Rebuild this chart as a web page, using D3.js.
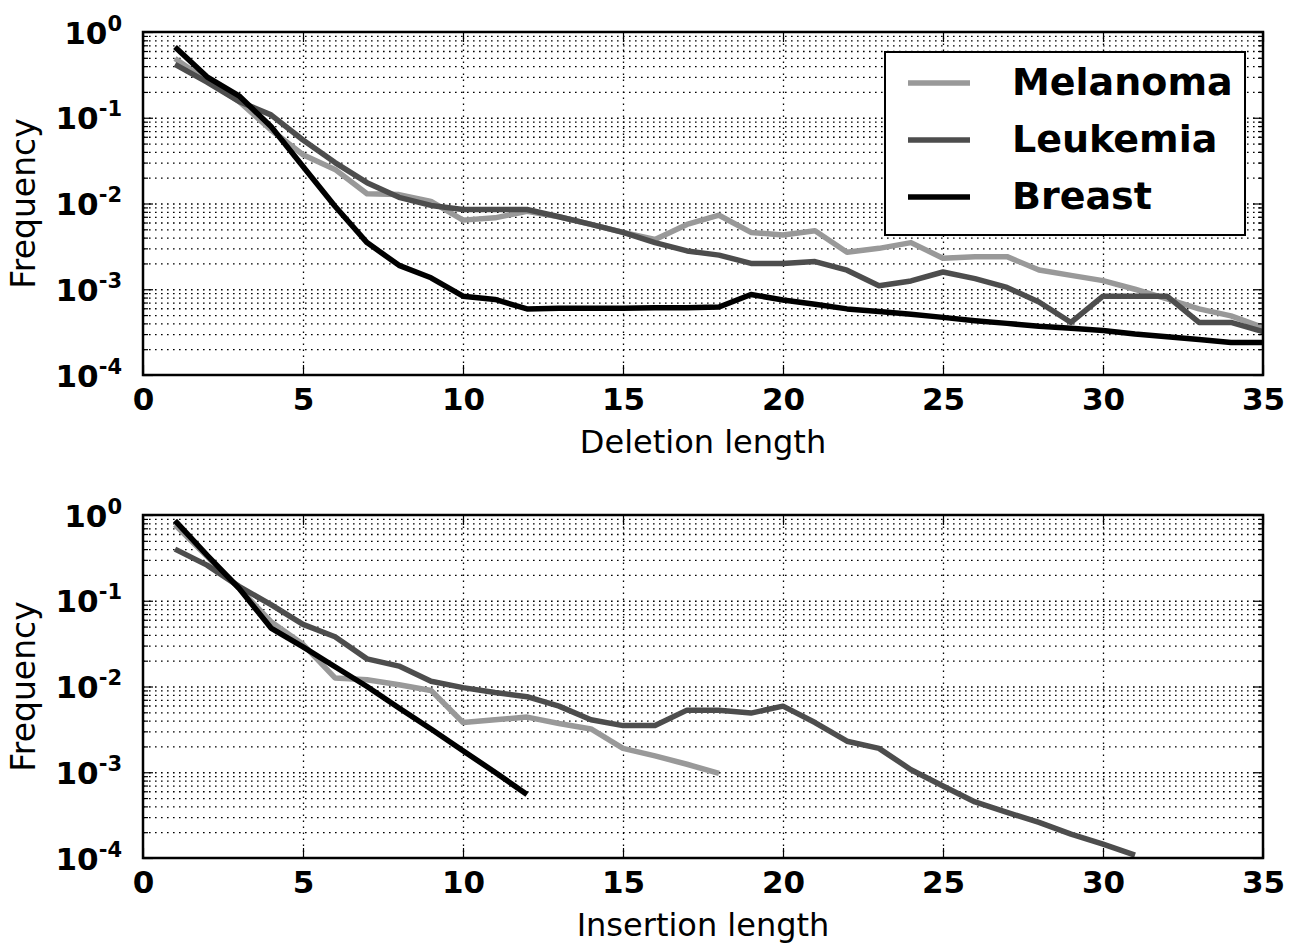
<!DOCTYPE html>
<html>
<head>
<meta charset="utf-8">
<script src="https://cdn.jsdelivr.net/npm/d3@7"></script>
<style>
  body { margin: 0; background: #fff; }
  svg { display: block; font-family: "DejaVu Sans", sans-serif; }
</style>
</head>
<body>
<div id="chart"></div>
<script>
// ---- data ----
const seriesNames = ["Melanoma", "Leukemia", "Breast"];
const seriesColors = ["#999999", "#4d4d4d", "#000000"];

const delX = [1, 2, 3, 4, 5, 6, 7, 8, 9, 10, 11, 12, 13, 14, 15, 16, 17, 18,
  19, 20, 21, 22, 23, 24, 25, 26, 27, 28, 29, 30, 31, 32, 33, 34, 35];
const melanomaDel = [0.49, 0.27, 0.155, 0.072, 0.037, 0.025, 0.013, 0.0127, 0.0106, 0.0064,
  0.0068, 0.0081, 0.0070, 0.0057, 0.0046, 0.0038, 0.0057, 0.0073, 0.0046, 0.0043,
  0.0048, 0.0027, 0.0030, 0.0035, 0.0023, 0.0024, 0.0024, 0.00168, 0.00145, 0.00126,
  0.0010, 0.00077, 0.00059, 0.00049, 0.00036];
const leukemiaDel = [0.42, 0.26, 0.155, 0.108, 0.055, 0.030, 0.0175, 0.0118, 0.0095, 0.0085,
  0.0085, 0.0085, 0.0070, 0.0057, 0.0046, 0.0035, 0.0028, 0.0025, 0.0020, 0.0020,
  0.0021, 0.00167, 0.0011, 0.00125, 0.00159, 0.00133, 0.00105, 0.00071, 0.00041, 0.00083,
  0.00083, 0.00083, 0.00041, 0.00041, 0.00032];
const breastDel = [0.67, 0.30, 0.18, 0.079, 0.027, 0.0093, 0.0035, 0.0019, 0.00136, 0.00083,
  0.00076, 0.00059, 0.0006, 0.0006, 0.0006, 0.00061, 0.00061, 0.00062, 0.00087, 0.00075,
  0.00067, 0.00059, 0.00055, 0.00051, 0.00047, 0.00043, 0.00040, 0.00037, 0.00035, 0.00033,
  0.00030, 0.00028, 0.00026, 0.00024, 0.00024];

const melanomaInsX = [1, 2, 3, 4, 5, 6, 7, 8, 9, 10, 11, 12, 13, 14, 15, 16, 17, 18];
const melanomaIns = [0.77, 0.33, 0.14, 0.057, 0.031, 0.0126, 0.012, 0.0105, 0.009, 0.0038,
  0.0041, 0.0044, 0.0037, 0.0032, 0.0019, 0.00155, 0.00124, 0.00097];
const leukemiaInsX = [1, 2, 3, 4, 5, 6, 7, 8, 9, 10, 11, 12, 13, 14, 15, 16, 17, 18,
  19, 20, 21, 22, 23, 24, 25, 26, 27, 28, 29, 30, 31];
const leukemiaIns = [0.40, 0.26, 0.147, 0.090, 0.053, 0.038, 0.021, 0.0173, 0.0115, 0.0097,
  0.0085, 0.0076, 0.0059, 0.0041, 0.0035, 0.0035, 0.0053, 0.0053, 0.0049, 0.0059,
  0.0038, 0.0023, 0.0019, 0.00107, 0.00069, 0.00045, 0.00034, 0.00026, 0.00019, 0.000145,
  0.000108];
const breastInsX = [1, 2, 3, 4, 5, 6, 7, 8, 9, 10, 11, 12];
const breastIns = [0.86, 0.34, 0.14, 0.048, 0.029, 0.017, 0.010, 0.0056, 0.0032, 0.00178,
  0.0010, 0.00055];

const xTicks = [0, 5, 10, 15, 20, 25, 30, 35];
const yTicks = [1e-4, 1e-3, 1e-2, 1e-1, 1];
const yExponents = ["-4", "-3", "-2", "-1", "0"];

// ---- layout ----
const W = 1304, H = 943;
const plotLeft = 143, plotWidth = 1120, plotHeight = 343;

const svg = d3.select("#chart").append("svg")
  .attr("width", W)
  .attr("height", H);

// minor log ticks 2..9 within each decade
const minorTicks = [];
[1e-4, 1e-3, 1e-2, 1e-1].forEach(function (d) {
  for (let k = 2; k <= 9; k++) minorTicks.push(d * k);
});

function drawPanel(top, xLabel, series, clipId, showLegend) {
  const g = svg.append("g").attr("transform", "translate(" + plotLeft + "," + top + ")");

  const x = d3.scaleLinear().domain([0, 35]).range([0, plotWidth]);
  const y = d3.scaleLog().domain([1e-4, 1]).range([plotHeight, 0]);

  // grid (dotted)
  const gridStyle = function (sel) {
    sel.select(".domain").remove();
    sel.selectAll(".tick line")
      .attr("stroke", "#000")
      .attr("stroke-width", 1.3)
      .attr("stroke-dasharray", "1.6,4.4");
    sel.selectAll(".tick text").remove();
  };
  g.append("g")
    .call(d3.axisLeft(y).tickValues(minorTicks.concat(yTicks.slice(1, 4))).tickSize(-plotWidth).tickFormat(""))
    .call(gridStyle);
  g.append("g")
    .attr("transform", "translate(0," + plotHeight + ")")
    .call(d3.axisBottom(x).tickValues(xTicks.slice(1, 7)).tickSize(-plotHeight).tickFormat(""))
    .call(gridStyle);

  // data lines
  svg.append("clipPath").attr("id", clipId)
    .append("rect").attr("width", plotWidth).attr("height", plotHeight);

  const line = d3.line()
    .x(function (d) { return x(d[0]); })
    .y(function (d) { return y(d[1]); });

  g.append("g").attr("clip-path", "url(#" + clipId + ")")
    .selectAll("path")
    .data(series)
    .enter()
    .append("path")
    .attr("d", function (s) { return line(d3.zip(s.xs, s.ys)); })
    .attr("fill", "none")
    .attr("stroke", function (s) { return s.color; })
    .attr("stroke-width", 5.5)
    .attr("stroke-linejoin", "round");

  // ticks (inward) on all sides
  const tickStyle = function (sel) {
    sel.select(".domain").remove();
    sel.selectAll(".tick line").attr("stroke", "#000").attr("stroke-width", 1.2);
  };
  // left major with labels
  const yAxis = g.append("g")
    .call(d3.axisLeft(y).tickValues(yTicks).tickSizeInner(-10).tickSizeOuter(0).tickPadding(0).tickFormat(""))
    .call(tickStyle);
  yAxis.selectAll(".tick text").each(function (d, i) {
    const t = d3.select(this)
      .attr("x", -21)
      .attr("dy", null)
      .attr("y", 11)
      .attr("text-anchor", "end")
      .attr("fill", "#000")
      .style("font-size", "31px")
      .style("font-weight", "bold")
      .style("font-family", "DejaVu Sans");
    t.append("tspan").text("10");
    t.append("tspan").attr("dy", -13).style("font-size", "21px").text(yExponents[i]);
  });
  g.append("g")
    .call(d3.axisLeft(y).tickValues(minorTicks).tickSizeInner(-5).tickSizeOuter(0).tickFormat(""))
    .call(tickStyle);
  g.append("g").attr("transform", "translate(" + plotWidth + ",0)")
    .call(d3.axisRight(y).tickValues(yTicks).tickSizeInner(-10).tickSizeOuter(0).tickFormat(""))
    .call(tickStyle);
  g.append("g").attr("transform", "translate(" + plotWidth + ",0)")
    .call(d3.axisRight(y).tickValues(minorTicks).tickSizeInner(-5).tickSizeOuter(0).tickFormat(""))
    .call(tickStyle);

  // x ticks
  const xAxis = g.append("g")
    .attr("transform", "translate(0," + plotHeight + ")")
    .call(d3.axisBottom(x).tickValues(xTicks).tickSizeInner(-10).tickSizeOuter(0).tickPadding(14))
    .call(tickStyle);
  xAxis.selectAll(".tick text")
    .attr("fill", "#000")
    .attr("dy", null)
    .attr("y", 35)
    .style("font-size", "31px")
    .style("font-weight", "bold")
    .style("font-family", "DejaVu Sans");
  g.append("g")
    .call(d3.axisTop(x).tickValues(xTicks).tickSizeInner(-10).tickSizeOuter(0).tickFormat(""))
    .call(tickStyle);

  // frame
  g.append("rect")
    .attr("width", plotWidth)
    .attr("height", plotHeight)
    .attr("fill", "none")
    .attr("stroke", "#000")
    .attr("stroke-width", 2.5);

  // axis labels
  g.append("text")
    .attr("x", plotWidth / 2)
    .attr("y", plotHeight + 78)
    .attr("text-anchor", "middle")
    .style("font-size", "32px")
    .text(xLabel);
  g.append("text")
    .attr("transform", "translate(" + (35 - plotLeft) + "," + (plotHeight / 2) + ")rotate(-90)")
    .attr("text-anchor", "middle")
    .style("font-size", "33px")
    .text("Frequency");

  if (showLegend) {
    const lg = svg.append("g").attr("transform", "translate(885,52)");
    lg.append("rect")
      .attr("width", 360)
      .attr("height", 183)
      .attr("fill", "#fff")
      .attr("stroke", "#000")
      .attr("stroke-width", 2);
    const rows = lg.selectAll("g.row")
      .data(series)
      .enter()
      .append("g")
      .attr("class", "row")
      .attr("transform", function (d, i) { return "translate(0," + (31 + i * 57) + ")"; });
    rows.append("line")
      .attr("x1", 23).attr("x2", 85)
      .attr("stroke", function (d) { return d.color; })
      .attr("stroke-width", 5.5);
    rows.append("text")
      .attr("x", 127)
      .attr("y", 12)
      .style("font-size", "38px")
      .style("font-weight", "bold")
      .text(function (d) { return d.name; });
  }
}

drawPanel(32, "Deletion length", [
  { name: seriesNames[0], color: seriesColors[0], xs: delX, ys: melanomaDel },
  { name: seriesNames[1], color: seriesColors[1], xs: delX, ys: leukemiaDel },
  { name: seriesNames[2], color: seriesColors[2], xs: delX, ys: breastDel }
], "clipDel", true);

drawPanel(515, "Insertion length", [
  { name: seriesNames[0], color: seriesColors[0], xs: melanomaInsX, ys: melanomaIns },
  { name: seriesNames[1], color: seriesColors[1], xs: leukemiaInsX, ys: leukemiaIns },
  { name: seriesNames[2], color: seriesColors[2], xs: breastInsX, ys: breastIns }
], "clipIns", false);
</script>
</body>
</html>
